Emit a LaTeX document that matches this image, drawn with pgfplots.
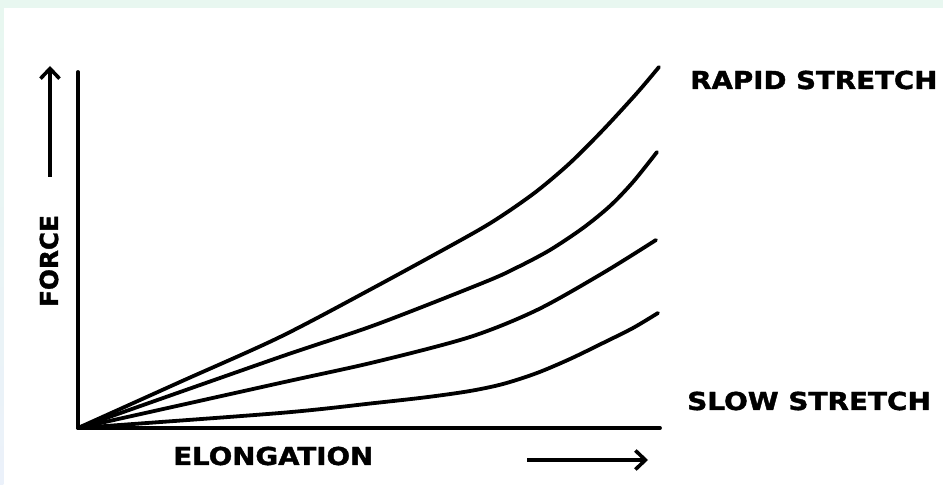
\documentclass[border=0pt]{standalone}
\usepackage{pgfplots}
\pgfplotsset{compat=1.18}
\usetikzlibrary{arrows.meta}
\usepackage{fontspec}
\setmainfont{DejaVu Sans}
\newfontfamily\heavy{DejaVu Sans}[BoldFeatures={FakeBold=1.5}]
\definecolor{edgegreen}{HTML}{E8F7F0}
\definecolor{edgeblue}{HTML}{EBF1FA}
\newcommand{\lbl}{\heavy\bfseries\fontsize{24.7bp}{30bp}\selectfont}
\pgfplotsset{curve/.style={black, line width=3.8bp, line cap=round, no marks, smooth}}
\begin{document}
\begin{tikzpicture}[x=1bp,y=1bp]
  % page frame, 943x485 with the axis origin at (78,428) from top left
  \useasboundingbox (-78,-57) rectangle (865,428);
  \fill[white] (-78,-57) rectangle (865,428);
  \fill[edgegreen] (-78,420) rectangle (865,428);
  \shade[top color=edgegreen, bottom color=edgeblue] (-78,-57) rectangle (-74.5,420);

  \begin{axis}[
    at={(0,0)}, anchor=south west,
    scale only axis,
    width=582bp, height=356bp,
    xmin=0, xmax=582, ymin=0, ymax=356,
    axis lines*=left,
    axis line style={line width=3.8bp, line cap=round},
    ticks=none,
    clip=false,
  ]
    % rapid stretch
    \addplot[curve] coordinates {(0,0) (102,46) (202,91) (297,141) (392,193) (425,213)
      (459,237) (492,265) (525,298) (559,335) (581,361)};
    \addplot[curve] coordinates {(0,0) (202,71) (297,103) (407,146) (440,161) (472,178)
      (505,200) (532,222) (555,246) (579,276)};
    \addplot[curve] coordinates {(0,0) (202,45) (297,66) (392,91) (459,118) (525,155)
      (578,188)};
    % slow stretch
    \addplot[curve] coordinates {(0,0) (202,15) (297,25) (350,31) (392,37) (425,44)
      (459,55) (492,69) (525,85) (555,100) (580,115)};
  \end{axis}

  \node[anchor=base west, inner sep=0, xscale=1.12] at (612,339) {\lbl RAPID STRETCH};
  \node[anchor=base west, inner sep=0, xscale=1.13] at (609,18) {\lbl SLOW STRETCH};
  \node[anchor=base west, inner sep=0, xscale=1.12] at (95,-37) {\lbl ELONGATION};
  \node[rotate=90, inner sep=0] at (-29,167) {\lbl FORCE};

  \draw[line width=3.6bp, -{Straight Barb[length=10bp,width=19bp,line width=3.6bp]}] (-28,251) -- (-28,362);
  \draw[line width=3.6bp, -{Straight Barb[length=10bp,width=19bp,line width=3.6bp]}] (449,-32) -- (570,-32);
\end{tikzpicture}
\end{document}
